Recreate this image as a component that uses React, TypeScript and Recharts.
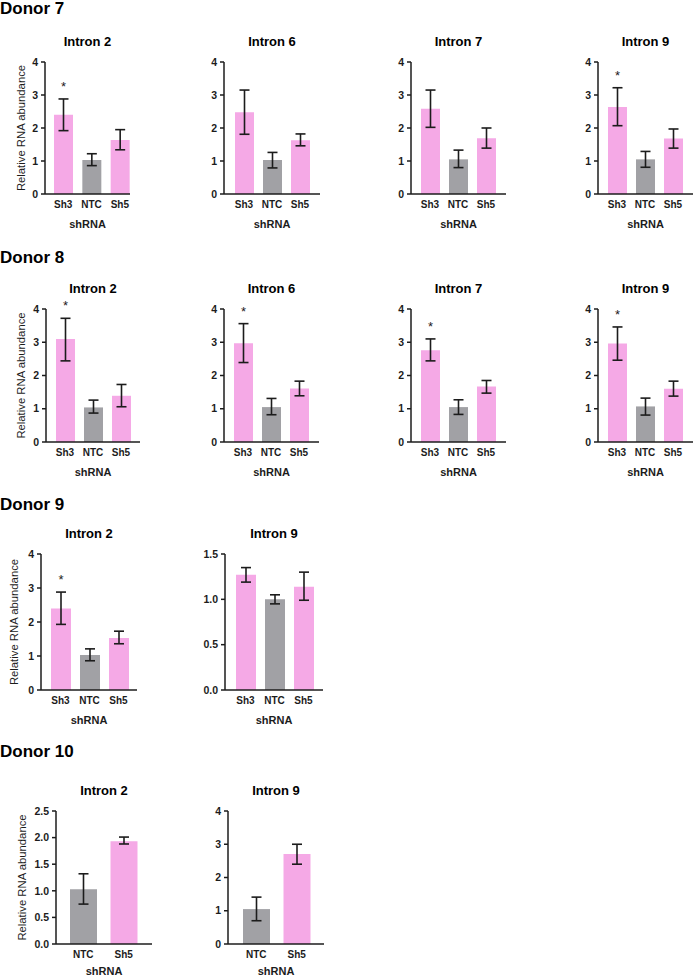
import { Bar, BarChart, Cell, ErrorBar, LabelList, XAxis, YAxis } from 'recharts';

const PINK = '#f5a9e6';
const GREY = '#a1a1a5';
const INK = '#1c1c1c';
const FONT = '"Liberation Sans", Arial, sans-serif';

const groups3 = ['Sh3', 'NTC', 'Sh5'];
const groups2 = ['NTC', 'Sh5'];

const ticksTo4 = [0, 1, 2, 3, 4];
const ticksTo15 = [0, 0.5, 1.0, 1.5];
const ticksTo25 = [0, 0.5, 1.0, 1.5, 2.0, 2.5];

// Donor 7
const d7i2Mean = [2.4, 1.03, 1.64];
const d7i2Low = [1.92, 0.86, 1.34];
const d7i2High = [2.88, 1.22, 1.95];
const d7i2Star = [true, false, false];

const d7i6Mean = [2.48, 1.03, 1.63];
const d7i6Low = [1.81, 0.79, 1.46];
const d7i6High = [3.15, 1.26, 1.82];
const d7i6Star = [false, false, false];

const d7i7Mean = [2.58, 1.05, 1.69];
const d7i7Low = [2.02, 0.8, 1.39];
const d7i7High = [3.15, 1.33, 2.0];
const d7i7Star = [false, false, false];

const d7i9Mean = [2.64, 1.05, 1.68];
const d7i9Low = [2.07, 0.81, 1.39];
const d7i9High = [3.22, 1.29, 1.97];
const d7i9Star = [true, false, false];

// Donor 8
const d8i2Mean = [3.1, 1.04, 1.39];
const d8i2Low = [2.44, 0.87, 1.06];
const d8i2High = [3.72, 1.26, 1.73];
const d8i2Star = [true, false, false];

const d8i6Mean = [2.97, 1.05, 1.61];
const d8i6Low = [2.39, 0.82, 1.39];
const d8i6High = [3.56, 1.31, 1.83];
const d8i6Star = [true, false, false];

const d8i7Mean = [2.76, 1.05, 1.67];
const d8i7Low = [2.44, 0.83, 1.47];
const d8i7High = [3.1, 1.27, 1.85];
const d8i7Star = [true, false, false];

const d8i9Mean = [2.96, 1.07, 1.6];
const d8i9Low = [2.46, 0.81, 1.38];
const d8i9High = [3.46, 1.32, 1.83];
const d8i9Star = [true, false, false];

// Donor 9
const d9i2Mean = [2.4, 1.03, 1.53];
const d9i2Low = [1.93, 0.86, 1.36];
const d9i2High = [2.88, 1.21, 1.73];
const d9i2Star = [true, false, false];

const d9i9Mean = [1.27, 1.0, 1.14];
const d9i9Low = [1.19, 0.95, 0.99];
const d9i9High = [1.35, 1.05, 1.3];
const d9i9Star = [false, false, false];

// Donor 10
const d10i2Mean = [1.03, 1.93];
const d10i2Low = [0.75, 1.88];
const d10i2High = [1.32, 2.01];
const d10i2Star = [false, false];

const d10i9Mean = [1.05, 2.71];
const d10i9Low = [0.7, 2.4];
const d10i9High = [1.41, 3.0];
const d10i9Star = [false, false];

type PanelSpec = {
    title: string;
    groups: string[];
    mean: number[];
    low: number[];
    high: number[];
    stars: boolean[];
    ticks: number[];
    decimals: number;
    left: number;
    top: number;
    right: number;
    bottom: number;
    pad: { left: number; right: number };
    barSize: number;
    yLabelX?: number;
    xLabelOffset?: number;
};

const donors = [
    { name: 'Donor 7', baseline: 14 },
    { name: 'Donor 8', baseline: 263 },
    { name: 'Donor 9', baseline: 510 },
    { name: 'Donor 10', baseline: 757 },
];

const panels: PanelSpec[] = [
    { title: 'Intron 2', groups: groups3, mean: d7i2Mean, low: d7i2Low, high: d7i2High, stars: d7i2Star, ticks: ticksTo4, decimals: 0, left: 45, top: 62, right: 130, bottom: 194, pad: { left: 4, right: -4 }, barSize: 19, yLabelX: 21 },
    { title: 'Intron 6', groups: groups3, mean: d7i6Mean, low: d7i6Low, high: d7i6High, stars: d7i6Star, ticks: ticksTo4, decimals: 0, left: 224, top: 62, right: 320, bottom: 194, pad: { left: 6, right: 6 }, barSize: 19 },
    { title: 'Intron 7', groups: groups3, mean: d7i7Mean, low: d7i7Low, high: d7i7High, stars: d7i7Star, ticks: ticksTo4, decimals: 0, left: 411, top: 62, right: 506, bottom: 194, pad: { left: 5, right: 6 }, barSize: 19 },
    { title: 'Intron 9', groups: groups3, mean: d7i9Mean, low: d7i9Low, high: d7i9High, stars: d7i9Star, ticks: ticksTo4, decimals: 0, left: 598, top: 62, right: 693, bottom: 194, pad: { left: 5, right: 6 }, barSize: 19 },

    { title: 'Intron 2', groups: groups3, mean: d8i2Mean, low: d8i2Low, high: d8i2High, stars: d8i2Star, ticks: ticksTo4, decimals: 0, left: 46, top: 309, right: 140, bottom: 442, pad: { left: 5, right: 5 }, barSize: 19, yLabelX: 21 },
    { title: 'Intron 6', groups: groups3, mean: d8i6Mean, low: d8i6Low, high: d8i6High, stars: d8i6Star, ticks: ticksTo4, decimals: 0, left: 224, top: 309, right: 319, bottom: 442, pad: { left: 5, right: 6 }, barSize: 19 },
    { title: 'Intron 7', groups: groups3, mean: d8i7Mean, low: d8i7Low, high: d8i7High, stars: d8i7Star, ticks: ticksTo4, decimals: 0, left: 411, top: 309, right: 506, bottom: 442, pad: { left: 5, right: 6 }, barSize: 19 },
    { title: 'Intron 9', groups: groups3, mean: d8i9Mean, low: d8i9Low, high: d8i9High, stars: d8i9Star, ticks: ticksTo4, decimals: 0, left: 598, top: 309, right: 693, bottom: 442, pad: { left: 5, right: 6 }, barSize: 19 },

    { title: 'Intron 2', groups: groups3, mean: d9i2Mean, low: d9i2Low, high: d9i2High, stars: d9i2Star, ticks: ticksTo4, decimals: 0, left: 41, top: 554, right: 137, bottom: 690, pad: { left: 5, right: 4 }, barSize: 20, yLabelX: 14 },
    { title: 'Intron 9', groups: groups3, mean: d9i9Mean, low: d9i9Low, high: d9i9High, stars: d9i9Star, ticks: ticksTo15, decimals: 1, left: 225, top: 554, right: 323, bottom: 690, pad: { left: 6, right: 5 }, barSize: 20 },

    { title: 'Intron 2', groups: groups2, mean: d10i2Mean, low: d10i2Low, high: d10i2High, stars: d10i2Star, ticks: ticksTo25, decimals: 1, left: 56, top: 811, right: 152, bottom: 944, pad: { left: 7, right: 8 }, barSize: 27, yLabelX: 22, xLabelOffset: 17 },
    { title: 'Intron 9', groups: groups2, mean: d10i9Mean, low: d10i9Low, high: d10i9High, stars: d10i9Star, ticks: ticksTo4, decimals: 0, left: 228, top: 811, right: 324, bottom: 944, pad: { left: 8, right: 7 }, barSize: 27, xLabelOffset: 17 },
];

type Row = { group: string; mean: number; high: number; err: [number, number]; star: string };

function StarMark(props: any, rows: Row[]) {
    const { x, y, width, height, index } = props;
    const row = rows[index];
    if (!row || !row.star) {
        return null;
    }
    const base = Number(y) + Number(height);
    const perUnit = Number(height) / row.mean;
    const errTop = base - row.high * perUnit;
    return (
        <text x={Number(x) + Number(width) / 2} y={errTop - 8} textAnchor="middle" fontSize={13} fill={INK} fontFamily={FONT}>
            {row.star}
        </text>
    );
}

function Panel({ p }: { p: PanelSpec }) {
    const axisW = p.yLabelX != null ? p.left : 40;
    const plotW = p.right - p.left;
    const plotH = p.bottom - p.top;
    const width = axisW + plotW + 12;
    const height = 40 + plotH + 48;
    const rows: Row[] = p.groups.map((g, i) => ({
        group: g,
        mean: p.mean[i],
        high: p.high[i],
        err: [p.mean[i] - p.low[i], p.high[i] - p.mean[i]],
        star: p.stars[i] ? '*' : '',
    }));
    const tickStyle = { fontSize: 10, fontWeight: 700, fill: INK, fontFamily: FONT };

    return (
        <div style={{ position: 'absolute', left: p.left - axisW, top: p.top - 40, width, height }}>
            <BarChart width={width} height={height} data={rows} margin={{ top: 40, right: 12, bottom: 0, left: 0 }}>
                <XAxis
                    dataKey="group"
                    height={48}
                    padding={p.pad}
                    tickLine={false}
                    axisLine={{ stroke: INK, strokeWidth: 1.5 }}
                    tick={tickStyle}
                    tickMargin={1}
                    interval={0}
                    label={{ value: 'shRNA', position: 'insideBottom', offset: p.xLabelOffset ?? 14, style: { fontSize: 11, fontWeight: 700, fill: INK, fontFamily: FONT } }}
                />
                <YAxis
                    width={axisW}
                    type="number"
                    domain={[p.ticks[0], p.ticks[p.ticks.length - 1]]}
                    ticks={p.ticks}
                    interval={0}
                    tickSize={4}
                    tickMargin={3}
                    axisLine={{ stroke: INK, strokeWidth: 1.5 }}
                    tickLine={{ stroke: INK, strokeWidth: 1.5 }}
                    tick={{ ...tickStyle, fontSize: 10.5 }}
                    tickFormatter={(v: number) => v.toFixed(p.decimals)}
                    label={
                        p.yLabelX != null
                            ? { value: 'Relative RNA abundance', angle: -90, position: 'insideLeft', offset: p.yLabelX, style: { textAnchor: 'middle', fontSize: 11.3, fill: INK, fontFamily: FONT } }
                            : undefined
                    }
                />
                <Bar dataKey="mean" barSize={p.barSize} isAnimationActive={false}>
                    {rows.map((r) => (
                        <Cell key={r.group} fill={r.group === 'NTC' ? GREY : PINK} />
                    ))}
                    <ErrorBar dataKey="err" width={5} stroke={INK} strokeWidth={1.6} isAnimationActive={false} />
                    <LabelList dataKey="star" content={(props: any) => StarMark(props, rows)} />
                </Bar>
            </BarChart>
        </div>
    );
}

export default function App() {
    return (
        <div style={{ position: 'absolute', left: 0, top: 0, width: 693, height: 978, background: '#fff', fontFamily: FONT, overflow: 'hidden' }}>
            {panels.map((p, i) => (
                <Panel key={i} p={p} />
            ))}
            <svg width={693} height={978} style={{ position: 'absolute', left: 0, top: 0, pointerEvents: 'none' }}>
                {donors.map((d) => (
                    <text key={d.name} x={0} y={d.baseline} fontSize={17} fontWeight={700} fill="#000" fontFamily={FONT}>
                        {d.name}
                    </text>
                ))}
                {panels.map((p, i) => (
                    <text
                        key={i}
                        x={(p.left + p.right) / 2}
                        y={p.top - 21}
                        textAnchor="middle"
                        dominantBaseline="central"
                        fontSize={13}
                        fontWeight={700}
                        fill="#000"
                        fontFamily={FONT}
                    >
                        {p.title}
                    </text>
                ))}
            </svg>
        </div>
    );
}
